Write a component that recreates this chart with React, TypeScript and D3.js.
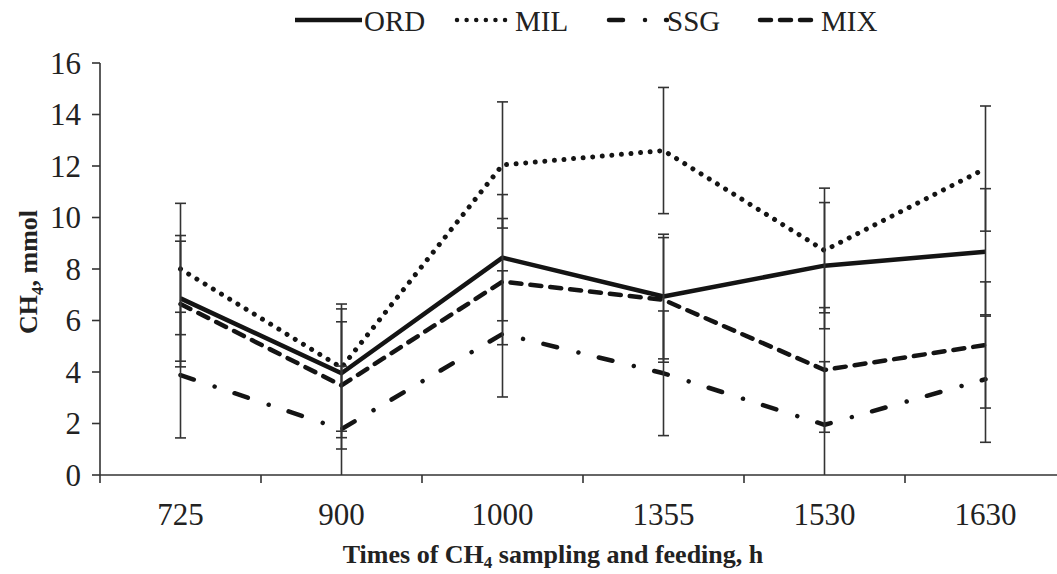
import * as d3 from "d3";
import React, { useRef, useEffect } from "react";

const times = ["725", "900", "1000", "1355", "1530", "1630"];
const yTicks = [0, 2, 4, 6, 8, 10, 12, 14, 16];

const ordValues = [6.86, 3.95, 8.44, 6.93, 8.13, 8.67];
const ordErrors = [2.44, 2.5, 2.45, 2.42, 2.45, 2.45];
const milValues = [8.0, 4.17, 12.04, 12.6, 8.72, 11.9];
const milErrors = [2.55, 2.47, 2.45, 2.45, 2.42, 2.43];
const ssgValues = [3.88, 1.78, 5.48, 3.95, 1.95, 3.72];
const ssgErrors = [2.44, 2.45, 2.45, 2.42, 2.45, 2.45];
const mixValues = [6.64, 3.48, 7.51, 6.8, 4.08, 5.05];
const mixErrors = [2.44, 2.47, 2.45, 2.42, 2.42, 2.45];

const W = 1057;
const H = 574;
const margin = { top: 63, right: -9, bottom: 99, left: 100 };
const ink = "#141414";
const serif = "'Liberation Serif', 'Times New Roman', Times, serif";

const series = [
  { name: "ORD", values: ordValues, errors: ordErrors, dash: "none", legendX: [295, 362], textX: 364 },
  { name: "MIL", values: milValues, errors: milErrors, dash: "0.01 9.6", legendX: [457, 510], textX: 515 },
  { name: "SSG", values: ssgValues, errors: ssgErrors, dash: "14 22 0.01 21", legendX: [609, 667], textX: 667 },
  { name: "MIX", values: mixValues, errors: mixErrors, dash: "11 9", legendX: [760, 815], textX: 821 },
];

const draw = (node) => {
  const svg = d3.select(node);
  svg.selectAll("*").remove();

  const x = d3
    .scaleBand()
    .domain(times)
    .range([margin.left, W - margin.right]);
  const y = d3
    .scaleLinear()
    .domain([0, 16])
    .range([H - margin.bottom, margin.top]);

  const g = svg.append("g");

  // y axis
  g.append("line")
    .attr("x1", margin.left)
    .attr("x2", margin.left)
    .attr("y1", y(16))
    .attr("y2", y(0))
    .style("stroke", "#333")
    .style("stroke-width", 1.6);
  g.selectAll(".ytick")
    .data(yTicks)
    .enter()
    .append("line")
    .attr("x1", margin.left - 8)
    .attr("x2", margin.left)
    .attr("y1", (d) => y(d))
    .attr("y2", (d) => y(d))
    .style("stroke", "#333")
    .style("stroke-width", 1.6);
  g.selectAll(".ylab")
    .data(yTicks)
    .enter()
    .append("text")
    .attr("x", margin.left - 19)
    .attr("y", (d) => y(d))
    .attr("dy", "0.35em")
    .style("text-anchor", "end")
    .style("font-family", serif)
    .style("font-size", "31px")
    .style("fill", "#222")
    .text((d) => d);

  // x axis
  g.append("line")
    .attr("x1", margin.left)
    .attr("x2", W)
    .attr("y1", y(0))
    .attr("y2", y(0))
    .style("stroke", "#333")
    .style("stroke-width", 1.6);
  g.selectAll(".xtick")
    .data(times)
    .enter()
    .append("line")
    .attr("x1", (d) => x(d))
    .attr("x2", (d) => x(d))
    .attr("y1", y(0))
    .attr("y2", y(0) + 8)
    .style("stroke", "#333")
    .style("stroke-width", 1.6);
  g.selectAll(".xlab")
    .data(times)
    .enter()
    .append("text")
    .attr("x", (d) => x(d) + x.bandwidth() / 2)
    .attr("y", 525)
    .style("text-anchor", "middle")
    .style("font-family", serif)
    .style("font-size", "31px")
    .style("fill", "#222")
    .text((d) => d);

  // axis titles
  const xt = g
    .append("text")
    .attr("x", 553)
    .attr("y", 563)
    .style("text-anchor", "middle")
    .style("font-family", serif)
    .style("font-weight", "bold")
    .style("font-size", "26px")
    .style("fill", "#222");
  xt.append("tspan").text("Times of CH");
  xt.append("tspan").attr("dy", 5).style("font-size", "17px").text("4");
  xt.append("tspan").attr("dy", -5).text(" sampling and feeding, h");

  const yt = g
    .append("text")
    .attr("transform", "translate(37,272) rotate(-90)")
    .style("text-anchor", "middle")
    .style("font-family", serif)
    .style("font-weight", "bold")
    .style("font-size", "26px")
    .style("fill", "#222");
  yt.append("tspan").text("CH");
  yt.append("tspan").attr("dy", 6).style("font-size", "17px").text("4");
  yt.append("tspan").attr("dy", -6).text(", mmol");

  const cx = (i) => x(times[i]) + x.bandwidth() / 2;

  const line = d3
    .line()
    .x((d, i) => cx(i))
    .y((d) => y(d));

  series.forEach((s) => {
    g.append("path")
      .datum(s.values)
      .attr("d", line)
      .style("fill", "none")
      .style("stroke", ink)
      .style("stroke-width", s.name === "MIL" ? 5 : 4.5)
      .style("stroke-linecap", s.dash === "none" ? "butt" : "round")
      .style("stroke-linejoin", "round")
      .style("stroke-dasharray", s.dash);
  });

  // error bars (mean +/- error, clipped at zero)
  series.forEach((s) => {
    const pts = s.values.map((v, i) => ({
      px: cx(i),
      hi: v + s.errors[i],
      lo: v - s.errors[i],
    }));
    const bars = g
      .append("g")
      .selectAll("g")
      .data(pts)
      .enter()
      .append("g");
    bars
      .append("line")
      .attr("x1", (d) => d.px)
      .attr("x2", (d) => d.px)
      .attr("y1", (d) => y(Math.max(0, d.lo)))
      .attr("y2", (d) => y(d.hi))
      .style("stroke", "#333")
      .style("stroke-width", 1.6);
    bars
      .append("line")
      .attr("x1", (d) => d.px - 5.5)
      .attr("x2", (d) => d.px + 5.5)
      .attr("y1", (d) => y(d.hi))
      .attr("y2", (d) => y(d.hi))
      .style("stroke", "#333")
      .style("stroke-width", 1.6);
    bars
      .filter((d) => d.lo > 0)
      .append("line")
      .attr("x1", (d) => d.px - 5.5)
      .attr("x2", (d) => d.px + 5.5)
      .attr("y1", (d) => y(d.lo))
      .attr("y2", (d) => y(d.lo))
      .style("stroke", "#333")
      .style("stroke-width", 1.6);
  });

  // legend
  series.forEach((s) => {
    g.append("line")
      .attr("x1", s.legendX[0])
      .attr("x2", s.legendX[1])
      .attr("y1", 20)
      .attr("y2", 20)
      .style("stroke", ink)
      .style("stroke-width", 4.5)
      .style("stroke-linecap", s.dash === "none" ? "butt" : "round")
      .style("stroke-dasharray", s.dash);
    g.append("text")
      .attr("x", s.textX)
      .attr("y", 31)
      .style("font-family", serif)
      .style("font-size", "29px")
      .style("fill", "#222")
      .text(s.name);
  });
};

const App = () => {
  const ref = useRef(null);

  useEffect(() => {
    draw(ref.current);
  }, []);

  return (
    <svg
      ref={ref}
      width={W}
      height={H}
      style={{ position: "absolute", left: 0, top: 0, background: "#fff" }}
    ></svg>
  );
};

export default App;
